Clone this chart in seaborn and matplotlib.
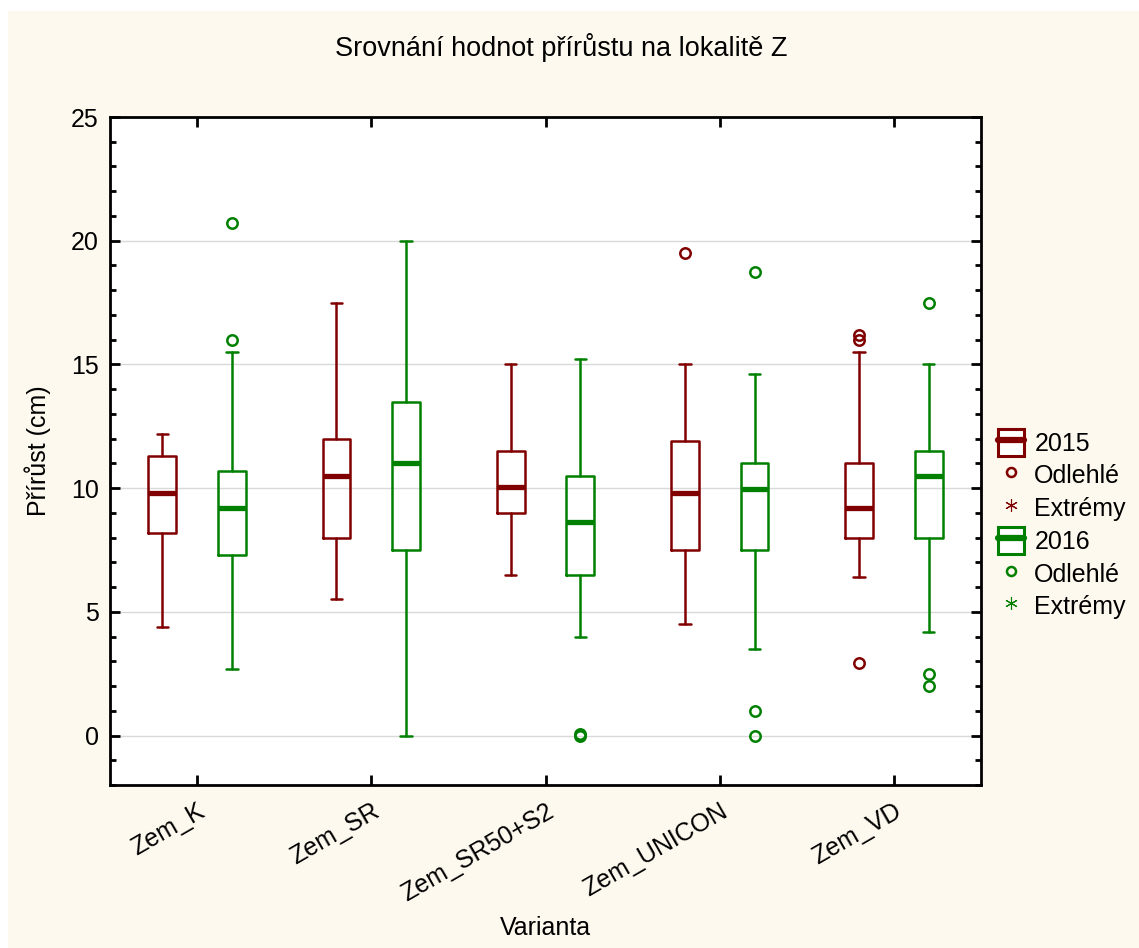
import numpy as np
import matplotlib
matplotlib.use("Agg")
import matplotlib.pyplot as plt
import seaborn as sns
from matplotlib.patches import Rectangle, Patch
from matplotlib.lines import Line2D
from matplotlib.ticker import MultipleLocator

# ---------------------------------------------------------------------------
# DATA (box statistics)
# ---------------------------------------------------------------------------
categories = ["Zem_K", "Zem_SR", "Zem_SR50+S2", "Zem_UNICON", "Zem_VD"]
years = ["2015", "2016"]

med_2015 = [9.8, 10.5, 10.05, 9.8, 9.2]
q1_2015 = [8.2, 8.0, 9.0, 7.5, 8.0]
q3_2015 = [11.3, 12.0, 11.5, 11.9, 11.0]
lo_2015 = [4.4, 5.5, 6.5, 4.5, 6.4]
hi_2015 = [12.2, 17.5, 15.0, 15.0, 15.5]
out_2015 = [[], [], [], [19.5], [16.0, 16.2, 2.95]]

med_2016 = [9.2, 11.0, 8.65, 9.95, 10.5]
q1_2016 = [7.3, 7.5, 6.5, 7.5, 8.0]
q3_2016 = [10.7, 13.5, 10.5, 11.0, 11.5]
lo_2016 = [2.7, 0.0, 4.0, 3.5, 4.2]
hi_2016 = [15.5, 20.0, 15.2, 14.6, 15.0]
out_2016 = [[16.0, 20.7], [], [0.0, 0.05], [18.75, 1.0, 0.0], [17.5, 2.5, 2.0]]

COLORS = {"2015": "#800000", "2016": "#008000"}
BG = "#fef9ee"

# ---------------------------------------------------------------------------
# STYLE
# ---------------------------------------------------------------------------
sns.set_style("white")
plt.rcParams["font.family"] = ["Liberation Sans", "DejaVu Sans"]
plt.rcParams["font.size"] = 18
plt.rcParams["text.color"] = "black"
plt.rcParams["axes.labelcolor"] = "black"
plt.rcParams["xtick.color"] = "black"
plt.rcParams["ytick.color"] = "black"

fig = plt.figure(figsize=(11.39, 9.48), dpi=100)
fig.patch.set_facecolor(BG)
# thin white border on the top and left, as in the exported original
fig.patches.append(Rectangle((0, 1 - 11 / 948), 1, 11 / 948, transform=fig.transFigure,
                             facecolor="white", edgecolor="none", zorder=-10))
fig.patches.append(Rectangle((0, 0), 8 / 1139, 1, transform=fig.transFigure,
                             facecolor="white", edgecolor="none", zorder=-10))

ax = fig.add_axes([110 / 1139, 1 - 785 / 948, (981 - 110) / 1139, (785 - 117) / 948])
ax.set_facecolor("white")

series = {
    "2015": (med_2015, q1_2015, q3_2015, lo_2015, hi_2015, out_2015, -0.2),
    "2016": (med_2016, q1_2016, q3_2016, lo_2016, hi_2016, out_2016, 0.2),
}

for yr in years:
    med, q1, q3, lo, hi, out, off = series[yr]
    c = COLORS[yr]
    stats = [dict(med=med[i], q1=q1[i], q3=q3[i], whislo=lo[i], whishi=hi[i],
                  fliers=out[i], label=categories[i]) for i in range(len(categories))]
    pos = np.arange(len(categories)) + off
    ax.bxp(stats, positions=pos, widths=0.16, capwidths=0.065, showfliers=True,
           manage_ticks=False,
           boxprops=dict(color=c, linewidth=1.8),
           whiskerprops=dict(color=c, linewidth=1.8),
           capprops=dict(color=c, linewidth=1.8),
           medianprops=dict(color=c, linewidth=3.8, solid_capstyle="butt"),
           flierprops=dict(marker="o", markerfacecolor="none", markeredgecolor=c,
                           markersize=7.5, markeredgewidth=1.8))

ax.set_xlim(-0.5, len(categories) - 0.5)
ax.set_ylim(-2, 25)
ax.set_xticks(np.arange(len(categories)))
ax.set_xticklabels(categories, rotation=30, ha="right", va="top", rotation_mode="anchor")
ax.yaxis.set_major_locator(MultipleLocator(5))
ax.yaxis.set_minor_locator(MultipleLocator(1))
ax.tick_params(axis="both", which="both", direction="in", top=True, right=True,
               bottom=True, left=True, width=2, color="black", labelsize=18)
ax.tick_params(axis="both", which="major", length=7, pad=8)
ax.tick_params(axis="y", which="minor", length=4)
ax.tick_params(axis="x", which="major", pad=10)
ax.yaxis.grid(True, which="major", color="#d9d9d9", linewidth=1)
ax.set_axisbelow(True)
for sp in ax.spines.values():
    sp.set_linewidth(2)
    sp.set_color("black")
    sp.set_visible(True)

ax.set_ylabel("Přírůst (cm)", fontsize=18)
ax.yaxis.set_label_coords((51 - 110) / 871, 0.5)
fig.text(545 / 1139, 1 - 928 / 948, "Varianta", ha="center", va="center", fontsize=18)
fig.text(561 / 1139, 1 - 47 / 948, "Srovnání hodnot přírůstu na lokalitě Z",
         ha="center", va="center", fontsize=19.5)

# ---------------------------------------------------------------------------
# LEGEND
# ---------------------------------------------------------------------------
handles, labels = [], []
for yr in years:
    c = COLORS[yr]
    box = (Patch(facecolor="white", edgecolor=c, linewidth=2.2),
           Line2D([0], [0], color=c, linewidth=4.5))
    handles += [box,
                Line2D([0], [0], linestyle="none", marker="o", markerfacecolor="none",
                       markeredgecolor=c, markersize=6.5, markeredgewidth=1.8),
                Line2D([0], [0], linestyle="none", marker=(6, 2, 0), color=c,
                       markersize=9, markeredgewidth=0.8)]
    labels += [yr, "Odlehlé", "Extrémy"]

fig.legend(handles, labels, loc="center left", bbox_to_anchor=(998 / 1139, 0.447),
           frameon=False, fontsize=18, handlelength=1.05, handleheight=1.3,
           handletextpad=0.4, labelspacing=0.22, borderaxespad=0, borderpad=0)

plt.savefig("out.png", dpi=100, facecolor=fig.get_facecolor())
